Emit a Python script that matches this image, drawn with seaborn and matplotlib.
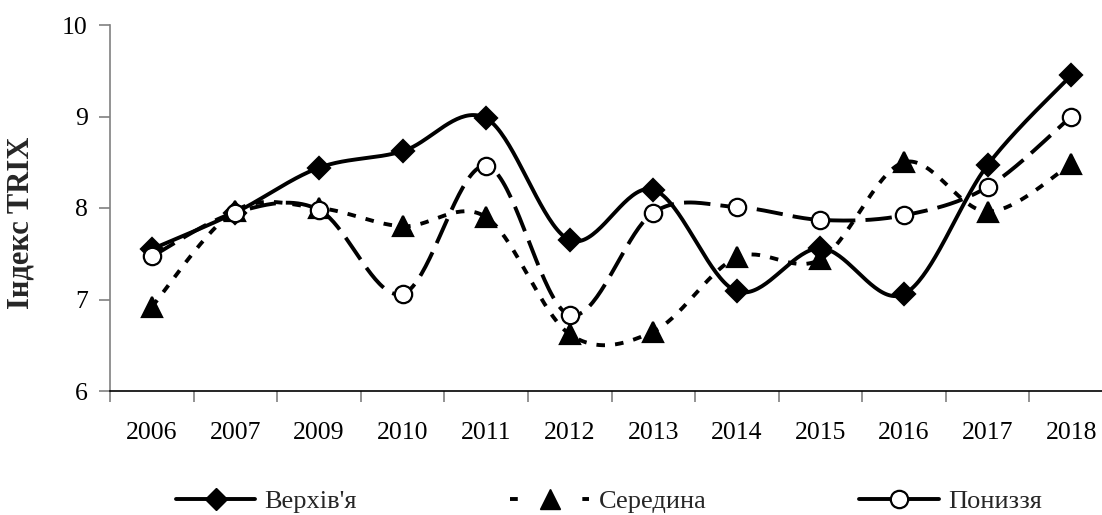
import numpy as np
import pandas as pd
import matplotlib
matplotlib.use("Agg")
import matplotlib.pyplot as plt
from matplotlib.lines import Line2D
import seaborn as sns

years = ["2006", "2007", "2009", "2010", "2011", "2012", "2013", "2014", "2015", "2016", "2017", "2018"]
verkhivia = [7.55, 7.95, 8.44, 8.62, 8.98, 7.65, 8.20, 7.09, 7.56, 7.06, 8.47, 9.45]
seredyna = [6.92, 7.97, 8.00, 7.80, 7.90, 6.62, 6.65, 7.46, 7.44, 8.50, 7.96, 8.48]
ponyzzia = [7.47, 7.95, 7.98, 7.06, 8.46, 6.83, 7.95, 8.01, 7.87, 7.92, 8.23, 9.00]
series_names = ["Верхів'я", "Середина", "Пониззя"]
y_label = "Індекс TRIX"

sns.set_theme(style="white")
plt.rcParams["font.family"] = ["Liberation Serif", "DejaVu Serif"]


def smooth(xv, yv, n=40):
    """Excel-style smoothed line (Bezier through each pair of points)."""
    P = np.column_stack([xv, yv]).astype(float)
    m = len(P)
    out = []
    for i in range(m - 1):
        p0 = P[i - 1] if i > 0 else P[i]
        p1 = P[i]
        p2 = P[i + 1]
        p3 = P[i + 2] if i + 2 < m else P[i + 1]
        c1 = p1 + (p2 - p0) / 6.0
        c2 = p2 - (p3 - p1) / 6.0
        t = np.linspace(0, 1, n, endpoint=(i == m - 2))[:, None]
        b = (1 - t) ** 3 * p1 + 3 * (1 - t) ** 2 * t * c1 + 3 * (1 - t) * t ** 2 * c2 + t ** 3 * p2
        out.append(b)
    out = np.vstack(out)
    return out[:, 0], out[:, 1]


fig = plt.figure(figsize=(11.02, 5.15), dpi=100)
ax = fig.add_axes([110 / 1102, (515 - 391) / 515, 1003 / 1102, 366 / 515])

xpos = np.arange(len(years))
lw = 2.8
styles = [
    dict(dashes=None, marker="D", mfc="black", ms=11),
    dict(dashes=(2.2, 2.6), marker="^", mfc="black", ms=14),
    dict(dashes=(6.8, 2.6), marker="o", mfc="white", ms=12.5),
]
data = [verkhivia, seredyna, ponyzzia]

for k, (name, vals, st) in enumerate(zip(series_names, data, styles)):
    sx, sy = smooth(xpos, vals)
    dfc = pd.DataFrame({"x": sx, "y": sy})
    sns.lineplot(data=dfc, x="x", y="y", ax=ax, color="black", lw=lw,
                 sort=False, estimator=None, zorder=2 + 2 * k)
    line = ax.lines[-1]
    if st["dashes"] is not None:
        line.set_dashes(st["dashes"])
        line.set_dash_capstyle("butt")
    dfp = pd.DataFrame({"x": xpos, "y": vals})
    ax.plot(dfp["x"], dfp["y"], ls="none", marker=st["marker"], ms=st["ms"],
            mfc=st["mfc"], mec="black", mew=1.6, zorder=3 + 2 * k)

ax.set_xlim(-0.5, len(years) - 0.5)
ax.set_ylim(6, 10)
ax.set_xticks(xpos)
ax.set_xticklabels(years)
ax.set_xticks(np.arange(-0.5, len(years), 1.0), minor=True)
ax.set_yticks([6, 7, 8, 9, 10])
ax.tick_params(axis="x", which="major", length=0, pad=22, labelsize=18.5, colors="black")
ax.tick_params(axis="x", which="minor", length=8, width=1.2, color="#808080", direction="out")
ax.tick_params(axis="y", which="major", length=8, width=1.2, color="#808080", direction="out",
               pad=8, labelsize=18.5, labelcolor="black")
ax.tick_params(axis="x", which="both", bottom=True)
ax.tick_params(axis="y", left=True)

for s in ["top", "right"]:
    ax.spines[s].set_visible(False)
ax.spines["left"].set_color("#808080")
ax.spines["left"].set_linewidth(1.2)
ax.spines["bottom"].set_color("black")
ax.spines["bottom"].set_linewidth(1.2)
ax.grid(False)

ax.set_xlabel("")
ax.set_ylabel(y_label, fontsize=22, fontweight="bold")
ax.yaxis.set_label_coords(-0.074, 0.46)

handles = [
    Line2D([], [], color="black", lw=lw, marker="D", ms=11, mfc="black", mec="black"),
    Line2D([], [], color="black", lw=lw, dashes=(2.0, 7.3), marker="^", ms=14, mfc="black", mec="black"),
    Line2D([], [], color="black", lw=lw, marker="o", ms=12.5, mfc="white", mec="black", mew=1.6),
]
leg = fig.legend(handles, series_names, loc="center", bbox_to_anchor=(609 / 1102, 0.026),
                 ncol=3, frameon=False, fontsize=19, handlelength=3.0,
                 handletextpad=0.35, columnspacing=5.8)

fig.savefig("out.png", dpi=100)
